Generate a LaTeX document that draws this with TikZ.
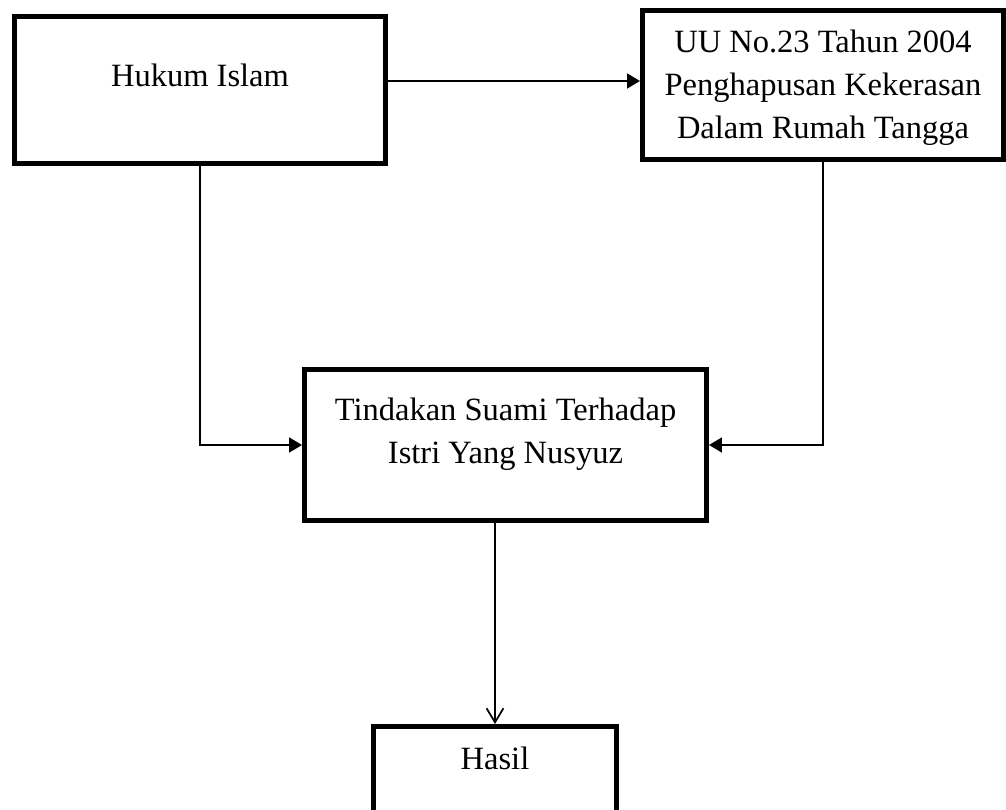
\documentclass[tikz,border=0pt]{standalone}
\usepackage{fontspec}
\setmainfont{Liberation Serif}
\usetikzlibrary{arrows.meta,positioning}

\begin{document}
\begin{tikzpicture}[
    x=0.02cm, y=-0.02cm,
    box/.style={rectangle, draw, line width=0.1cm, inner sep=0pt, font=\fontsize{18.5}{24.5}\selectfont},
    lbl/.style={align=center, font=\fontsize{18.5}{24.5}\selectfont},
    arrow/.style={-{Triangle[length=7.4pt,width=8.5pt]}, line width=1pt},
    openarrow/.style={-{Straight Barb[length=8pt,width=9.6pt]}, line width=1pt}
]
\useasboundingbox (0,0) rectangle (1006,810);

% Sources
\node[box, minimum width=7.42cm, minimum height=2.94cm,
      label={[lbl, yshift=0.3cm]center:Hukum Islam}] (islam) at (200,90) {};
\node[box, minimum width=7.22cm, minimum height=2.98cm,
      label={[lbl, yshift=-0.06cm]center:UU No.23 Tahun 2004\\Penghapusan Kekerasan\\Dalam Rumah Tangga}] (uu) at (823,85) {};

% Subject
\node[box, minimum width=8.04cm, minimum height=3.02cm,
      label={[lbl, yshift=0.22cm]center:Tindakan Suami Terhadap\\Istri Yang Nusyuz}] (tindakan) at (505.5,445) {};

% Result
\node[box, minimum width=4.86cm, minimum height=3.02cm,
      label={[lbl, yshift=0.88cm]center:Hasil}] (hasil) at (495,802) {};

% Arrows
\draw[arrow] ([yshift=0.18cm]islam.east) -- ([yshift=0.18cm]islam.east -| uu.west);
\draw[arrow] (islam.south) |- (tindakan.west);
\draw[arrow] (uu.south) |- (tindakan.east);
\draw[openarrow] (tindakan.south -| hasil.north) -- (hasil.north);

\end{tikzpicture}
\end{document}
